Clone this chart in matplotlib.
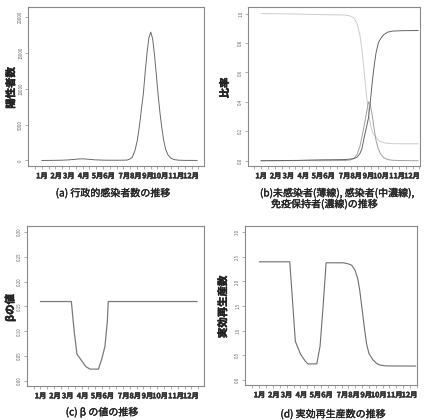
import numpy as np
import matplotlib
matplotlib.use("Agg")
import matplotlib.pyplot as plt
import matplotlib.patheffects as pe

plt.rcParams['font.family'] = ['Noto Sans CJK JP', 'DejaVu Sans']

# 月ラベル (日数はラベルの置かれた位置)
months = ['1月', '2月', '3月', '4月', '5月', '6月', '7月', '8月', '9月', '10月', '11月', '12月']
month_days = [0, 31, 58, 90, 120, 145, 178, 203, 229, 256, 290, 322]

# (a) 行政的感染者数
pos_days = [0, 20, 40, 55, 70, 80, 90, 100, 115, 135, 160, 175, 184, 190, 195, 201, 206,
            211, 215, 219, 223, 227, 231, 235, 239, 243, 247, 251, 255, 259, 263, 267,
            272, 278, 285, 295, 310, 335]
pos_counts = [0, 10, 30, 70, 150, 210, 230, 170, 90, 40, 30, 40, 60, 200, 420, 1400, 2800,
              5000, 7200, 9300, 12300, 15000, 17100, 17900, 17000, 14800, 12000, 9100, 6600,
              4500, 2800, 1600, 800, 350, 130, 40, 10, 5]

# (b) 未感染者 / 感染者 / 免疫保持者
sir_days = [0, 40, 80, 100, 130, 160, 180, 190, 198, 205, 211, 215, 220, 225, 229, 233,
            237, 241, 245, 250, 255, 262, 270, 280, 300, 335]
sus = [1.0, 0.999, 0.997, 0.995, 0.993, 0.992, 0.99, 0.984, 0.97, 0.93, 0.85, 0.76, 0.60,
       0.44, 0.33, 0.25, 0.20, 0.175, 0.16, 0.14, 0.13, 0.122, 0.118, 0.116, 0.115, 0.115]
inf = [0.0, 0.0, 0.001, 0.001, 0.0, 0.001, 0.002, 0.005, 0.015, 0.045, 0.10, 0.16, 0.24,
       0.33, 0.40, 0.38, 0.31, 0.22, 0.14, 0.08, 0.045, 0.02, 0.008, 0.003, 0.001, 0.0]
rec = [0.0, 0.001, 0.002, 0.004, 0.006, 0.007, 0.008, 0.011, 0.015, 0.025, 0.05, 0.08, 0.16,
       0.23, 0.29, 0.40, 0.53, 0.64, 0.73, 0.80, 0.83, 0.858, 0.874, 0.881, 0.884, 0.885]

# (c) βの値
beta_days = [0, 66, 72, 78, 88, 97, 106, 124, 131, 138, 143, 145, 335]
beta_vals = [0.16, 0.16, 0.10, 0.054, 0.041, 0.029, 0.024, 0.024, 0.044, 0.07, 0.12, 0.16, 0.16]

# (d) 実効再生産数
reff_days = [0, 65, 71, 77, 88, 98, 104, 123, 130, 136, 143, 180, 190, 198, 205, 211, 215,
             220, 225, 230, 235, 243, 250, 257, 263, 270, 280, 335]
reff_vals = [2.40, 2.40, 1.60, 0.78, 0.52, 0.38, 0.32, 0.32, 0.68, 1.42, 2.38, 2.38, 2.36,
             2.33, 2.23, 2.05, 1.83, 1.45, 1.06, 0.72, 0.53, 0.41, 0.34, 0.30, 0.29, 0.28,
             0.278, 0.276]

W, H = 427, 420
fig = plt.figure(figsize=(W / 100, H / 100), dpi=100)

# 太字の代わりに細い縁取り
bold_fx = [pe.withStroke(linewidth=0.4, foreground='#333333')]


def box(x0, y0, x1, y1):
    # ピクセル座標から axes の位置へ
    return [x0 / W, 1 - y1 / H, (x1 - x0) / W, (y1 - y0) / H]


def style(ax, xlim, ylim, yticks, ylabels):
    ax.set_xlim(*xlim)
    ax.set_ylim(*ylim)
    for s in ax.spines.values():
        s.set_color('#8a8a8a')
        s.set_linewidth(0.8)
    ax.set_xticks(month_days)
    ax.set_xticklabels(months, fontsize=5.2, fontweight='bold', color='#333333')
    for t in ax.get_xticklabels():
        t.set_path_effects(bold_fx)
    ax.set_xticks(np.arange(-15, 350, 14.7), minor=True)
    ax.tick_params(axis='x', which='major', length=0, pad=4.5)
    ax.tick_params(axis='x', which='minor', length=1.8, width=0.5, color='#8a8a8a')
    ax.set_yticks(yticks)
    ax.set_yticklabels(ylabels, rotation=90, fontsize=3.2, color='#666666', va='center')
    ax.tick_params(axis='y', length=2, width=0.5, color='#8a8a8a', pad=1.5)


# (a)
ax = fig.add_axes(box(28, 7, 204, 166))
ax.plot(pos_days, pos_counts, color='#6a6a6a', lw=0.7)
style(ax, (-30, 350), (-770, 21400), [0, 5000, 10000, 15000, 20000],
      ['0', '5000', '10000', '15000', '20000'])

# (b)
ax = fig.add_axes(box(248, 7, 420, 166))
ax.plot(sir_days, sus, color='#cccccc', lw=0.7)
ax.plot(sir_days, inf, color='#a0a0a0', lw=0.7)
ax.plot(sir_days, rec, color='#666666', lw=0.7)
style(ax, (-28, 339), (-0.036, 1.045), [0, 0.2, 0.4, 0.6, 0.8, 1.0],
      ['0.0', '0.2', '0.4', '0.6', '0.8', '1.0'])

# (c)
ax = fig.add_axes(box(27, 226, 204, 386))
ax.plot(beta_days, beta_vals, color='#7a7a7a', lw=0.9)
style(ax, (-29, 350), (-0.01, 0.312), [0, 0.05, 0.10, 0.15, 0.20, 0.25, 0.30],
      ['0.00', '0.05', '0.10', '0.15', '0.20', '0.25', '0.30'])

# (d)
ax = fig.add_axes(box(245, 226, 417, 385))
ax.plot(reff_days, reff_vals, color='#6e6e6e', lw=0.8)
style(ax, (-31, 338), (-0.11, 3.13), [0, 0.5, 1.0, 1.5, 2.0, 2.5, 3.0],
      ['0.0', '0.5', '1.0', '1.5', '2.0', '2.5', '3.0'])

# 軸ラベル
ylab = dict(rotation=90, ha='center', va='center', fontsize=7.5, fontweight='bold',
            color='#222222', path_effects=[pe.withStroke(linewidth=0.35, foreground='#222222')])
fig.text(11 / W, 1 - 88 / H, '陽性者数', **ylab)
fig.text(225 / W, 1 - 88 / H, '比率', **ylab)
fig.text(10 / W, 1 - 308 / H, 'βの値', **ylab)
fig.text(223 / W, 1 - 307 / H, '実効再生産数', **ylab)

# 図のキャプション
cap = dict(fontsize=7.2, color='#222222', va='center',
           path_effects=[pe.withStroke(linewidth=0.25, foreground='#222222')])
fig.text(113 / W, 1 - 193 / H, '(a) 行政的感染者数の推移', ha='center', **cap)
fig.text(260 / W, 1 - 193 / H, '(b)未感染者(薄線), 感染者(中濃線),', ha='left', **cap)
fig.text(271 / W, 1 - 204 / H, '免疫保持者(濃線)の推移', ha='left', **cap)
fig.text(102 / W, 1 - 412 / H, '(c) β の値の推移', ha='center', **cap)
fig.text(333 / W, 1 - 414 / H, '(d) 実効再生産数の推移', ha='center', **cap)

fig.savefig('out.png', dpi=100)
